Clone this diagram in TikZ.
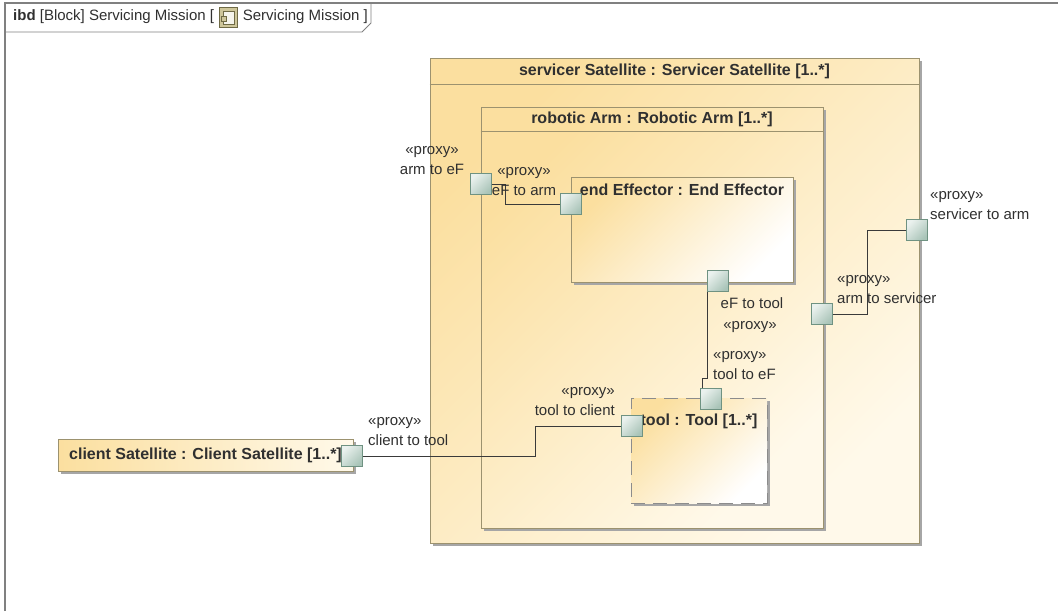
\documentclass[tikz,border=0pt]{standalone}
\usepackage{fontspec}
\setmainfont{Liberation Sans}
\usepackage{tikz}
\usetikzlibrary{shadows}
\usetikzlibrary{positioning}

\definecolor{partedge}{HTML}{9C926F}
\definecolor{partdark}{HTML}{FBDF9F}
\definecolor{partlight}{HTML}{FFF9EA}
\definecolor{portedge}{HTML}{6F9282}
\definecolor{portdark}{HTML}{A9C4B8}
\definecolor{portlight}{HTML}{EAF1EE}
\definecolor{wirecol}{HTML}{3A3A3A}
\definecolor{textcol}{HTML}{303030}
\definecolor{framegray}{HTML}{808080}
\definecolor{iconfill}{HTML}{CEC69A}
\definecolor{iconedge}{HTML}{6F6A45}

\begin{document}
\begin{tikzpicture}[x=1pt, y=-1pt,
    part/.style={draw=partedge, line width=1pt, top color=partdark, bottom color=partlight, shading angle=45,
        drop shadow={shadow xshift=3pt, shadow yshift=-3pt, fill=black!35, opacity=1}, inner sep=0pt},
    port/.style={draw=portedge, line width=0.8pt, top color=portlight, bottom color=portdark, shading angle=45,
        minimum size=21pt, inner sep=0pt},
    title/.style={font=\bfseries\fontsize{16}{19}\selectfont, text=textcol, inner sep=0pt},
    lbl/.style={font=\fontsize{15}{20}\selectfont, text=textcol, inner sep=0pt},
    wire/.style={draw=wirecol, line width=1pt}]
    \useasboundingbox (0,0) rectangle (1058,611);
    \fill[white] (0,0) rectangle (1058,611);

    % frame and header
    \draw[framegray, line width=2pt] (5,611) -- (5,3) -- (1058,3);
    \draw[framegray, line width=0.8pt] (5,32) -- (362,32) -- (371,23) -- (371,3);
    \node[lbl, anchor=west] (hdrA) at (13,17) {\textbf{ibd} [Block] Servicing Mission [};
    \node[draw=iconedge, fill=iconfill, minimum width=18pt, minimum height=20pt, inner sep=0pt, right=5pt of hdrA] (icon) {};
    \draw[iconedge, fill=white!80!iconfill] ([shift={(4,4)}]icon.north west) rectangle ([shift={(-3,-3)}]icon.south east);
    \draw[iconedge, fill=iconfill] ([shift={(2,9)}]icon.north west) rectangle ([shift={(7,14)}]icon.north west);
    \node[lbl, right=5pt of icon] (hdrB) {Servicing Mission ]};

    % parts
    \node[part, minimum width=489pt, minimum height=485pt] (srv) at (674.5,300.5) {};
    \draw[partedge, line width=1pt] ([yshift=-27pt]srv.north west) -- ([yshift=-27pt]srv.north east);
    \node[title] (srvT) at ([yshift=-14pt]srv.north) {servicer Satellite : Servicer Satellite [1..*]};

    \node[part, minimum width=342pt, minimum height=421pt] (arm) at (652,317.5) {};
    \draw[partedge, line width=1pt] ([yshift=-25pt]arm.north west) -- ([yshift=-25pt]arm.north east);
    \node[title] (armT) at ([yshift=-13pt]arm.north) {robotic Arm : Robotic Arm [1..*]};

    \node[part, top color=partdark, bottom color=white, shading angle=45, minimum width=222pt, minimum height=105pt] (eff) at (682,229.5) {};
    \node[title] (effT) at ([yshift=-13pt]eff.north) {end Effector : End Effector};

    \node[part, draw=black!45, dashed, dash pattern=on 14pt off 8pt, top color=partdark, bottom color=white, shading angle=45,
        minimum width=136pt, minimum height=105pt] (tool) at (699,450.5) {};
    \node[title] (toolT) at ([yshift=-24pt]tool.north) {tool : Tool [1..*]};

    \node[part, left color=partdark, right color=partlight, minimum width=295pt, minimum height=32pt] (cli) at (205.5,455) {};
    \node[title] (cliT) at (cli.center) {client Satellite : Client Satellite [1..*]};

    % ports
    \node[port] (pAE) at (481,184) {};
    \node[port] (pEA) at (571,204) {};
    \node[port] (pET) at (718,281) {};
    \node[port] (pTE) at (711,399) {};
    \node[port] (pAS) at (822,314) {};
    \node[port] (pSA) at (917,230) {};
    \node[port] (pTC) at (632,426) {};
    \node[port] (pCT) at (352,456) {};

    % connectors
    \draw[wire] (pAE.east) -- ++(13.5,0) |- (pEA.west);
    \draw[wire] ([xshift=-11pt]pET.south) -- ++(0,86.5) -| ([xshift=-9pt]pTE.north);
    \draw[wire] (pAS.east) -- ++(34.5,0) |- (pSA.west);
    \draw[wire] (pTC.west) -- ++(-85.5,0) |- (pCT.east);

    % port labels
    \node[lbl, align=center] (lAE) at (432,161) {«proxy»\\arm to eF};
    \node[lbl, align=center] (lEA) at (524,182) {«proxy»\\eF to arm};
    \node[lbl] (lET) at (752,303) {eF to tool};
    \node[lbl] (lETs) at (750,327) {«proxy»};
    \node[lbl, align=left, anchor=west] (lTE) at (713,366) {«proxy»\\tool to eF};
    \node[lbl, align=left, anchor=west] (lAS) at (837,290) {«proxy»\\arm to servicer};
    \node[lbl, align=left, anchor=west] (lSA) at (930,206) {«proxy»\\servicer to arm};
    \node[lbl, align=right, anchor=east] (lTC) at (615,402) {«proxy»\\tool to client};
    \node[lbl, align=left, anchor=west] (lCT) at (368,432) {«proxy»\\client to tool};
\end{tikzpicture}
\end{document}
